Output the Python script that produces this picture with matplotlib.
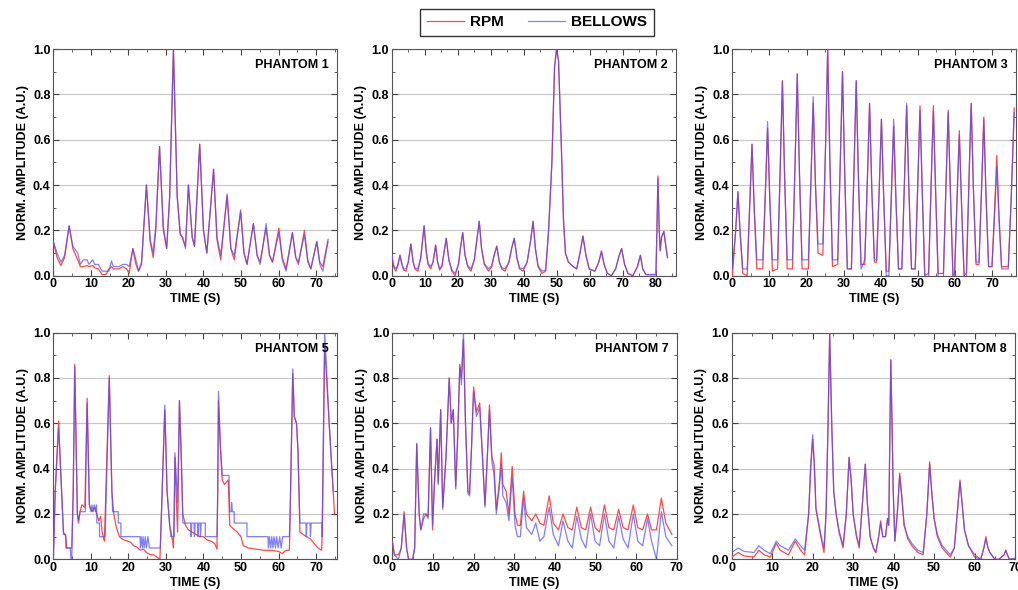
import numpy as np
import matplotlib
matplotlib.use("Agg")
import matplotlib.pyplot as plt
from matplotlib.ticker import MultipleLocator, FormatStrFormatter

plt.rcParams['font.family'] = ['Liberation Sans', 'DejaVu Sans']
plt.rcParams['font.weight'] = 'bold'

# ---- data: (time s, RPM, BELLOWS) ----
phantom1 = [
    (0, 0.15, 0.15), (1, 0.08, 0.10), (2, 0.045, 0.06), (3, 0.08, 0.09), (4.2, 0.22, 0.22),
    (5.2, 0.12, 0.13), (6.5, 0.07, 0.10), (7.2, 0.04, 0.05), (8, 0.04, 0.07), (9, 0.045, 0.07),
    (9.5, 0.04, 0.05), (10.5, 0.045, 0.07), (11, 0.035, 0.05), (12, 0.03, 0.05), (13, 0.005, 0.02),
    (14, 0.005, 0.02), (14.8, 0.03, 0.02), (15.5, 0.04, 0.065), (16, 0.03, 0.04), (17.5, 0.03, 0.04),
    (18.5, 0.04, 0.05), (19.5, 0.03, 0.05), (20.2, 0.01, 0.04), (21.2, 0.12, 0.12), (22, 0.05, 0.07),
    (22.7, 0.02, 0.02), (23.5, 0.05, 0.06), (24.8, 0.40, 0.40), (25.8, 0.15, 0.16), (26.6, 0.08, 0.10),
    (27.3, 0.20, 0.22), (28.3, 0.57, 0.57), (29.3, 0.20, 0.22), (30.2, 0.12, 0.12), (31.0, 0.35, 0.35),
    (32.0, 1.0, 1.0), (33.0, 0.35, 0.35), (33.8, 0.19, 0.18), (34.5, 0.16, 0.17), (35.2, 0.13, 0.12),
    (36.0, 0.40, 0.40), (37.0, 0.17, 0.17), (37.6, 0.13, 0.13), (39.0, 0.58, 0.58), (40.0, 0.20, 0.20),
    (40.9, 0.10, 0.10), (42.7, 0.47, 0.47), (43.6, 0.16, 0.17), (44.6, 0.07, 0.09), (46.3, 0.36, 0.35),
    (47.3, 0.12, 0.12), (48.2, 0.07, 0.09), (49.9, 0.29, 0.28), (50.8, 0.10, 0.10), (51.6, 0.05, 0.05),
    (53.3, 0.23, 0.23), (54.3, 0.09, 0.09), (55.1, 0.06, 0.05), (56.7, 0.21, 0.23), (57.6, 0.09, 0.09),
    (58.4, 0.06, 0.06), (60.1, 0.21, 0.19), (61.0, 0.08, 0.07), (62.0, 0.03, 0.02), (63.7, 0.19, 0.19),
    (64.6, 0.08, 0.08), (65.3, 0.05, 0.06), (66.9, 0.20, 0.18), (67.8, 0.07, 0.06), (68.6, 0.03, 0.03),
    (70.2, 0.15, 0.15), (71.0, 0.06, 0.05), (71.8, 0.04, 0.02), (73.2, 0.16, 0.15),
]

phantom2 = [
    (0, 0.09, 0.09), (0.6, 0.04, 0.045), (1.2, 0.02, 0.03), (1.8, 0.04, 0.045), (2.5, 0.09, 0.09),
    (3.1, 0.05, 0.05), (3.6, 0.025, 0.03), (4.3, 0.02, 0.03), (5.0, 0.06, 0.06), (5.8, 0.14, 0.14),
    (6.5, 0.06, 0.06), (7.0, 0.03, 0.035), (7.9, 0.02, 0.03), (8.8, 0.08, 0.08), (9.8, 0.22, 0.22),
    (10.5, 0.1, 0.1), (11.0, 0.05, 0.055), (11.8, 0.03, 0.04), (12.5, 0.06, 0.06), (13.3, 0.135, 0.135),
    (13.9, 0.06, 0.06), (14.5, 0.025, 0.03), (15.2, 0.04, 0.045), (15.8, 0.1, 0.1), (16.5, 0.165, 0.165),
    (17.3, 0.07, 0.07), (18.2, 0.02, 0.025), (19.2, 0.0, 0.01), (20.2, 0.05, 0.05), (20.8, 0.12, 0.12),
    (21.5, 0.19, 0.19), (22.2, 0.09, 0.09), (23.0, 0.04, 0.045), (24.0, 0.02, 0.03), (25.0, 0.07, 0.07),
    (25.8, 0.16, 0.16), (26.5, 0.24, 0.24), (27.2, 0.12, 0.12), (28.0, 0.05, 0.055), (29.3, 0.02, 0.03),
    (30.3, 0.04, 0.045), (31.0, 0.09, 0.09), (31.8, 0.13, 0.13), (32.6, 0.06, 0.06), (33.3, 0.03, 0.035),
    (34.3, 0.02, 0.03), (35.5, 0.06, 0.06), (36.3, 0.12, 0.12), (37.1, 0.165, 0.165), (37.9, 0.08, 0.08),
    (38.7, 0.03, 0.035), (39.8, 0.02, 0.03), (41.0, 0.06, 0.06), (42.0, 0.15, 0.15), (42.8, 0.24, 0.24),
    (43.5, 0.12, 0.12), (44.3, 0.04, 0.045), (45.5, 0.01, 0.02), (46.6, 0.02, 0.025), (47.5, 0.2, 0.2),
    (48.5, 0.5, 0.5), (49.3, 0.92, 0.92), (49.9, 1.0, 1.0), (50.5, 0.95, 0.95), (51.3, 0.6, 0.6),
    (52.0, 0.25, 0.25), (52.6, 0.1, 0.1), (53.5, 0.06, 0.06), (55.0, 0.04, 0.04), (56.0, 0.03, 0.03),
    (57.0, 0.1, 0.1), (57.9, 0.175, 0.175), (58.8, 0.09, 0.09), (59.8, 0.03, 0.03), (61.5, 0.02, 0.02),
    (62.7, 0.06, 0.06), (63.5, 0.11, 0.105), (64.3, 0.05, 0.05), (65.3, 0.01, 0.01), (66.5, 0.0, 0.0),
    (67.8, 0.03, 0.03), (68.7, 0.08, 0.08), (69.6, 0.12, 0.12), (70.5, 0.05, 0.05), (71.5, 0.01, 0.01),
    (73.0, 0.0, 0.0), (74.4, 0.04, 0.04), (75.3, 0.09, 0.09), (76.0, 0.03, 0.03), (77.0, 0.005, 0.005),
    (80.0, 0.005, 0.005), (80.3, 0.2, 0.2), (80.6, 0.44, 0.43), (81.0, 0.2, 0.2), (81.3, 0.11, 0.11),
    (81.7, 0.17, 0.17), (82.4, 0.195, 0.195), (83.0, 0.13, 0.13), (83.5, 0.08, 0.08),
]

phantom3 = [
    (0, 0.0, 0.03), (0.9, 0.2, 0.2), (1.5, 0.37, 0.37), (2.1, 0.19, 0.19), (2.8, 0.01, 0.03),
    (4.0, 0.0, 0.03), (4.7, 0.32, 0.32), (5.3, 0.58, 0.58), (5.9, 0.29, 0.3), (6.6, 0.03, 0.07),
    (8.2, 0.03, 0.07), (8.9, 0.36, 0.37), (9.5, 0.65, 0.68), (10.1, 0.33, 0.34), (10.8, 0.02, 0.07),
    (12.2, 0.03, 0.07), (12.9, 0.47, 0.47), (13.5, 0.86, 0.86), (14.1, 0.43, 0.43), (14.8, 0.03, 0.07),
    (16.2, 0.03, 0.07), (16.9, 0.49, 0.49), (17.5, 0.89, 0.89), (18.1, 0.45, 0.45), (18.8, 0.03, 0.07),
    (20.5, 0.03, 0.07), (21.2, 0.42, 0.43), (21.8, 0.76, 0.79), (22.4, 0.4, 0.41), (23.1, 0.1, 0.14),
    (24.4, 0.09, 0.14), (25.1, 0.55, 0.55), (25.7, 1.0, 1.0), (26.3, 0.5, 0.5), (27.0, 0.04, 0.07),
    (28.4, 0.05, 0.07), (29.1, 0.5, 0.5), (29.7, 0.9, 0.9), (30.3, 0.45, 0.45), (31.0, 0.03, 0.03),
    (32.1, 0.03, 0.03), (32.8, 0.47, 0.47), (33.4, 0.86, 0.86), (34.0, 0.43, 0.43), (34.7, 0.05, 0.03),
    (35.7, 0.05, 0.07), (36.4, 0.42, 0.42), (37.0, 0.76, 0.76), (37.6, 0.38, 0.38), (38.3, 0.06, 0.07),
    (38.9, 0.06, 0.07), (39.6, 0.38, 0.38), (40.2, 0.69, 0.69), (40.8, 0.35, 0.35), (41.5, 0.02, 0.0),
    (42.2, 0.02, 0.0), (42.9, 0.36, 0.38), (43.5, 0.66, 0.69), (44.1, 0.33, 0.35), (44.8, 0.03, 0.03),
    (45.7, 0.03, 0.03), (46.4, 0.41, 0.42), (47.0, 0.75, 0.76), (47.6, 0.38, 0.38), (48.3, 0.03, 0.03),
    (49.3, 0.03, 0.03), (50.0, 0.41, 0.4), (50.6, 0.75, 0.73), (51.2, 0.38, 0.37), (51.9, 0.0, -0.02),
    (52.9, 0.01, -0.02), (53.6, 0.41, 0.4), (54.2, 0.75, 0.73), (54.8, 0.38, 0.37), (55.5, 0.01, -0.02),
    (56.9, 0.01, -0.02), (57.6, 0.4, 0.4), (58.2, 0.73, 0.72), (58.8, 0.37, 0.36), (59.5, 0.0, -0.02),
    (59.9, 0.01, -0.02), (60.6, 0.35, 0.34), (61.2, 0.64, 0.62), (61.8, 0.32, 0.31), (62.5, 0.0, -0.02),
    (63.1, 0.01, -0.02), (63.8, 0.42, 0.42), (64.4, 0.76, 0.76), (65.0, 0.38, 0.38), (65.7, 0.05, 0.06),
    (66.5, 0.05, 0.06), (67.2, 0.39, 0.38), (67.8, 0.70, 0.69), (68.4, 0.35, 0.35), (69.1, 0.04, 0.04),
    (70.0, 0.04, 0.04), (70.7, 0.29, 0.26), (71.3, 0.53, 0.48), (71.9, 0.27, 0.24), (72.6, 0.04, 0.03),
    (74.4, 0.04, 0.03), (75.2, 0.35, 0.34), (76.0, 0.74, 0.72),
]

phantom5_rpm = [
    (0, 0.0), (0.5, 0.3), (1.4, 0.61), (2.2, 0.3), (2.7, 0.12), (3.3, 0.1), (3.6, 0.05),
    (4.9, 0.05), (5.3, 0.3), (5.7, 0.86), (6.4, 0.2), (6.7, 0.16), (7.1, 0.21), (7.6, 0.24),
    (8.4, 0.23), (9.0, 0.71), (9.6, 0.24), (10.3, 0.21), (11.0, 0.23), (11.6, 0.2), (12.1, 0.17),
    (12.6, 0.19), (13.0, 0.12), (13.6, 0.08), (14.9, 0.81), (15.6, 0.3), (16.1, 0.2), (16.8, 0.14),
    (17.6, 0.1), (18.3, 0.09), (19.0, 0.085), (19.8, 0.08), (20.6, 0.075), (21.4, 0.06), (22.2, 0.055),
    (23.2, 0.04), (24.0, 0.045), (24.8, 0.03), (25.9, 0.02), (26.7, 0.02), (27.6, 0.01), (28.4, 0.0),
    (28.8, 0.2), (29.7, 0.66), (30.3, 0.3), (31.0, 0.15), (31.6, 0.1), (32.0, 0.05), (32.4, 0.45),
    (32.8, 0.25), (33.1, 0.12), (33.6, 0.70), (34.1, 0.42), (34.5, 0.2), (35.2, 0.15), (36.0, 0.13),
    (37.0, 0.12), (38.0, 0.11), (39.0, 0.10), (40.0, 0.10), (41.0, 0.085), (42.0, 0.08), (43.0, 0.07),
    (43.6, 0.045), (43.8, 0.3), (44.0, 0.70), (44.5, 0.5), (45.0, 0.35), (45.6, 0.33), (46.6, 0.35),
    (47.0, 0.15), (47.6, 0.14), (48.3, 0.13), (49.0, 0.12), (50.0, 0.1), (50.6, 0.06), (52.0, 0.05),
    (54.0, 0.045), (56.0, 0.04), (58.0, 0.04), (60.0, 0.035), (61.0, 0.025), (62.0, 0.04),
    (62.9, 0.04), (63.1, 0.2), (63.8, 0.82), (64.2, 0.63), (64.8, 0.6), (65.2, 0.47), (65.7, 0.12),
    (66.5, 0.11), (67.5, 0.1), (68.5, 0.09), (69.5, 0.07), (70.5, 0.05), (71.5, 0.04), (71.7, 0.15),
    (72.3, 0.95), (72.8, 0.8), (73.5, 0.6), (74.4, 0.35), (74.9, 0.2),
]

phantom5_bel = [
    (0, 0.0), (0.5, 0.3), (1.4, 0.58), (2.2, 0.3), (2.7, 0.11), (3.3, 0.11), (3.3, 0.05),
    (4.5, 0.05), (4.7, 0.0), (4.9, 0.0), (5.3, 0.3), (5.7, 0.85), (6.4, 0.2), (6.7, 0.17),
    (7.1, 0.21), (8.5, 0.21), (9.0, 0.69), (9.6, 0.24), (10.0, 0.21), (10.3, 0.24), (10.6, 0.21),
    (10.9, 0.24), (11.2, 0.21), (11.5, 0.24), (11.6, 0.16), (12.3, 0.16), (12.3, 0.1), (13.8, 0.1),
    (14.9, 0.8), (15.6, 0.3), (15.8, 0.21), (17.3, 0.21), (17.3, 0.16), (18.0, 0.16), (18.0, 0.1),
    (23.1, 0.1), (23.2, 0.05), (23.4, 0.1), (23.7, 0.05), (23.9, 0.1), (24.2, 0.05), (24.5, 0.1),
    (24.8, 0.05), (25.2, 0.1), (25.6, 0.05), (28.5, 0.05), (28.8, 0.2), (29.7, 0.68), (30.3, 0.3),
    (31.0, 0.15), (31.3, 0.1), (32.2, 0.1), (32.4, 0.47), (32.8, 0.35), (33.1, 0.25), (33.6, 0.70),
    (34.1, 0.47), (34.5, 0.16), (36.6, 0.16), (36.7, 0.1), (36.9, 0.16), (37.5, 0.16), (37.6, 0.1),
    (37.8, 0.16), (38.4, 0.16), (38.5, 0.1), (38.7, 0.16), (39.1, 0.16), (39.2, 0.1), (39.4, 0.16),
    (40.5, 0.16), (40.5, 0.1), (43.6, 0.1), (43.8, 0.3), (44.0, 0.74), (44.5, 0.5), (45.0, 0.37),
    (46.8, 0.37), (47.0, 0.21), (47.4, 0.21), (47.5, 0.25), (47.7, 0.21), (48.2, 0.21), (48.2, 0.16),
    (51.6, 0.16), (51.6, 0.1), (57.2, 0.1), (57.3, 0.05), (57.6, 0.1), (57.9, 0.05), (58.2, 0.1),
    (58.5, 0.05), (58.8, 0.1), (59.2, 0.05), (59.5, 0.1), (59.9, 0.05), (60.3, 0.1), (60.7, 0.05),
    (61.1, 0.1), (62.9, 0.1), (63.1, 0.2), (63.8, 0.84), (64.2, 0.63), (64.8, 0.6), (65.2, 0.48),
    (65.7, 0.16), (67.3, 0.16), (67.4, 0.1), (67.6, 0.16), (68.4, 0.16), (68.5, 0.1), (68.7, 0.16),
    (71.5, 0.16), (71.6, 0.1), (72.3, 1.0), (72.8, 0.84), (73.5, 0.6), (74.2, 0.4), (74.6, 0.3),
]

phantom7 = [
    (0, 0.08, 0.08), (0.5, 0.02, 0.02), (1.5, 0.02, 0.0), (2.2, 0.05, 0.05), (2.9, 0.21, 0.2),
    (3.5, 0.05, 0.05), (4.0, 0.0, 0.0), (5.0, 0.0, 0.0), (5.5, 0.05, 0.05), (6.0, 0.51, 0.51),
    (6.6, 0.2, 0.2), (7.0, 0.13, 0.13), (7.7, 0.18, 0.2), (8.3, 0.2, 0.2), (8.8, 0.19, 0.18),
    (9.4, 0.58, 0.58), (9.9, 0.13, 0.15), (10.4, 0.35, 0.35), (11.0, 0.53, 0.53), (11.3, 0.34, 0.33),
    (11.9, 0.66, 0.66), (12.4, 0.23, 0.22), (13.2, 0.45, 0.45), (14.0, 0.80, 0.80), (14.5, 0.6, 0.6),
    (15.0, 0.66, 0.66), (15.6, 0.32, 0.31), (16.1, 0.55, 0.55), (16.6, 0.86, 0.85), (17.0, 0.8, 0.77),
    (17.5, 0.97, 1.0), (18.0, 0.6, 0.6), (18.6, 0.3, 0.29), (19.0, 0.29, 0.28), (19.5, 0.5, 0.5),
    (20.0, 0.76, 0.74), (20.7, 0.65, 0.63), (21.5, 0.69, 0.67), (22.2, 0.45, 0.44), (22.8, 0.24, 0.23),
    (23.5, 0.5, 0.5), (23.9, 0.68, 0.66), (24.5, 0.45, 0.43), (25.0, 0.42, 0.38), (25.6, 0.22, 0.2),
    (26.4, 0.35, 0.33), (26.8, 0.47, 0.42), (27.2, 0.33, 0.28), (28.0, 0.3, 0.25), (28.7, 0.2, 0.17),
    (29.5, 0.41, 0.36), (30.2, 0.2, 0.15), (30.8, 0.15, 0.1), (31.5, 0.15, 0.1), (32.3, 0.3, 0.27),
    (33.0, 0.2, 0.14), (34.3, 0.17, 0.11), (35.3, 0.2, 0.16), (36.3, 0.16, 0.08), (37.3, 0.15, 0.1),
    (38.6, 0.28, 0.23), (39.6, 0.16, 0.11), (40.9, 0.13, 0.06), (42.0, 0.2, 0.17), (43.2, 0.14, 0.08),
    (44.3, 0.13, 0.05), (45.4, 0.23, 0.19), (46.5, 0.14, 0.09), (47.6, 0.13, 0.05), (48.8, 0.23, 0.2),
    (49.9, 0.14, 0.08), (51.0, 0.12, 0.06), (52.2, 0.24, 0.2), (53.3, 0.14, 0.08), (54.5, 0.13, 0.05),
    (55.7, 0.22, 0.19), (56.8, 0.14, 0.09), (58.0, 0.13, 0.05), (59.3, 0.24, 0.2), (60.4, 0.14, 0.08),
    (61.6, 0.13, 0.06), (62.8, 0.2, 0.18), (63.8, 0.13, 0.08), (65.0, 0.13, 0.0), (66.2, 0.27, 0.21),
    (67.3, 0.16, 0.1), (68.8, 0.11, 0.06),
]

phantom8 = [
    (0, 0.01, 0.03), (1.6, 0.03, 0.05), (3.0, 0.015, 0.035), (5.5, 0.01, 0.03), (6.7, 0.04, 0.06),
    (8.0, 0.02, 0.04), (9.5, 0.01, 0.025), (11.0, 0.07, 0.08), (12.0, 0.04, 0.06), (14.0, 0.02, 0.04),
    (15.7, 0.08, 0.09), (17.0, 0.04, 0.06), (18.0, 0.02, 0.04), (19.0, 0.2, 0.2), (19.5, 0.4, 0.41),
    (20.0, 0.53, 0.55), (20.4, 0.42, 0.42), (20.8, 0.22, 0.23), (21.3, 0.17, 0.18), (22.0, 0.1, 0.11),
    (22.8, 0.03, 0.05), (23.3, 0.2, 0.2), (23.8, 0.6, 0.6), (24.2, 1.0, 1.0), (24.7, 0.6, 0.6),
    (25.2, 0.3, 0.3), (25.8, 0.2, 0.2), (26.5, 0.12, 0.13), (27.5, 0.05, 0.06), (28.3, 0.2, 0.2),
    (29.0, 0.45, 0.45), (29.5, 0.35, 0.35), (30.0, 0.2, 0.2), (30.8, 0.1, 0.11), (31.5, 0.05, 0.06),
    (32.3, 0.25, 0.25), (33.0, 0.42, 0.42), (33.5, 0.25, 0.25), (34.2, 0.1, 0.1), (35.0, 0.05, 0.05),
    (35.6, 0.03, 0.03), (36.3, 0.1, 0.1), (36.8, 0.17, 0.16), (37.3, 0.1, 0.1), (38.0, 0.1, 0.1),
    (38.5, 0.18, 0.18), (38.8, 0.15, 0.15), (39.1, 0.6, 0.6), (39.3, 0.88, 0.88), (39.6, 0.6, 0.6),
    (39.9, 0.3, 0.3), (40.3, 0.08, 0.08), (40.9, 0.2, 0.2), (41.5, 0.38, 0.37), (42.0, 0.28, 0.28),
    (42.6, 0.15, 0.15), (43.5, 0.09, 0.1), (44.5, 0.06, 0.07), (46.0, 0.03, 0.04), (47.3, 0.02, 0.03),
    (48.2, 0.2, 0.2), (48.9, 0.43, 0.42), (49.4, 0.3, 0.3), (50.0, 0.18, 0.18), (50.8, 0.1, 0.11),
    (52.0, 0.05, 0.06), (54.0, 0.01, 0.02), (55.0, 0.05, 0.05), (55.7, 0.2, 0.2), (56.4, 0.35, 0.34),
    (56.9, 0.25, 0.25), (57.5, 0.13, 0.13), (58.5, 0.06, 0.06), (60.0, 0.02, 0.01), (61.5, 0.0, 0.0),
    (62.3, 0.05, 0.05), (62.8, 0.1, 0.09), (63.3, 0.05, 0.05), (63.8, 0.03, 0.03), (65.0, 0.0, 0.0),
    (66.0, 0.0, 0.0), (67.3, 0.02, 0.02), (67.7, 0.04, 0.04), (68.1, 0.02, 0.02), (68.6, 0.0, 0.0),
    (70.0, 0.0, 0.005),
]

titles = ["PHANTOM 1", "PHANTOM 2", "PHANTOM 3", "PHANTOM 5", "PHANTOM 7", "PHANTOM 8"]
xmax = [75.6, 86.0, 76.5, 75.6, 70, 70]

RED = '#ff4a4a'
BLUE = '#4a4aff'

fig = plt.figure(figsize=(10.18, 5.90), dpi=100)

# axes boxes in figure fractions
boxes = [
    [0.0524, 0.5327, 0.2787, 0.3842],
    [0.3848, 0.5327, 0.2790, 0.3842],
    [0.7194, 0.5327, 0.2787, 0.3842],
    [0.0524, 0.0520, 0.2787, 0.3842],
    [0.3854, 0.0520, 0.2794, 0.3842],
    [0.7188, 0.0520, 0.2783, 0.3842],
]


def split3(rows):
    a = np.array(rows, dtype=float)
    return a[:, 0], a[:, 1], a[:, 2]


series = []
for rows in (phantom1, phantom2, phantom3):
    t, r, b = split3(rows)
    series.append((t, r, t, b))
r5 = np.array(phantom5_rpm)
b5 = np.array(phantom5_bel)
series.append((r5[:, 0], r5[:, 1], b5[:, 0], b5[:, 1]))
for rows in (phantom7, phantom8):
    t, r, b = split3(rows)
    series.append((t, r, t, b))

for i, (tr, r, tb, b) in enumerate(series):
    ax = fig.add_axes(boxes[i])
    ax.plot(tr, r, color=RED, lw=0.9, label='RPM', zorder=3)
    ax.plot(tb, b, color=BLUE, lw=0.9, alpha=0.7, label='BELLOWS', zorder=4)
    ax.set_xlim(0, xmax[i])
    ax.set_ylim(0, 1.0)
    ax.xaxis.set_major_locator(MultipleLocator(10))
    ax.xaxis.set_minor_locator(MultipleLocator(5))
    ax.yaxis.set_major_locator(MultipleLocator(0.2))
    ax.yaxis.set_minor_locator(MultipleLocator(0.1))
    ax.yaxis.set_major_formatter(FormatStrFormatter('%.1f'))
    ax.grid(axis='y', color='#c8c8c8', lw=0.9, zorder=0)
    ax.tick_params(which='both', direction='in', top=True, right=True,
                   labelsize=9, pad=2, color='#444444')
    ax.tick_params(which='major', length=4)
    ax.tick_params(which='minor', length=2)
    for s in ax.spines.values():
        s.set_color('#555555')
        s.set_linewidth(0.8)
    for lab in ax.get_xticklabels() + ax.get_yticklabels():
        lab.set_fontweight('bold')
    ax.set_xlabel('TIME (S)', fontsize=9, fontweight='bold', labelpad=2)
    ax.set_ylabel('NORM. AMPLITUDE (A.U.)', fontsize=9, fontweight='bold', labelpad=3)
    ax.text(0.972, 0.955, titles[i], transform=ax.transAxes, ha='right', va='top',
            fontsize=9, fontweight='bold', zorder=6)
    if i == 0:
        handles, labels = ax.get_legend_handles_labels()

leg = fig.legend(handles, labels, loc='center', bbox_to_anchor=(0.5275, 0.962), ncol=2,
                 fontsize=11, frameon=True, fancybox=False, handlelength=2.4,
                 handletextpad=0.4, columnspacing=1.6, borderpad=0.45)
leg.get_frame().set_edgecolor('black')
leg.get_frame().set_linewidth(1.0)
for txt in leg.get_texts():
    txt.set_fontweight('bold')

fig.savefig('out.png', dpi=100)
